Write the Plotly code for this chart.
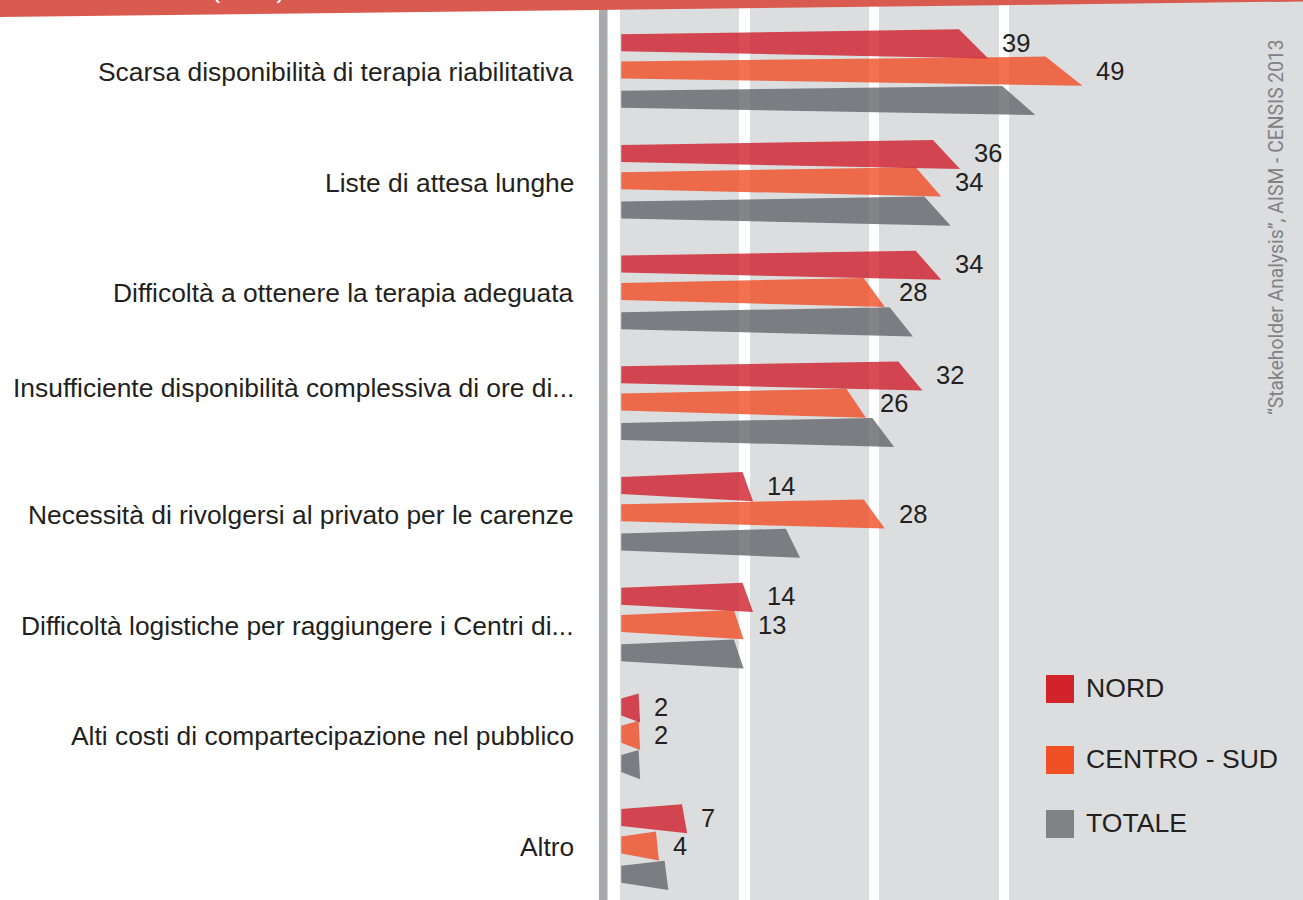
import plotly.graph_objects as go

# ---------------- data ----------------
categories = [
    "Scarsa disponibilità di terapia riabilitativa",
    "Liste di attesa lunghe",
    "Difficoltà a ottenere la terapia adeguata",
    "Insufficiente disponibilità complessiva di ore di...",
    "Necessità di rivolgersi al privato per le carenze",
    "Difficoltà logistiche per raggiungere i Centri di...",
    "Alti costi di compartecipazione nel pubblico",
    "Altro",
]
nord = [39, 36, 34, 32, 14, 14, 2, 7]
centro_sud = [49, 34, 28, 26, 28, 13, 2, 4]
totale = [44, 35, 31, 29, 19, 13, 2, 5]
series_names = ["NORD", "CENTRO - SUD", "TOTALE"]
source_text = "\u201cStakeholder Analysis\u201d, AISM - CENSIS 2013"
banner_text = "PROBLEMI NELL'ACCESSO AL SERVIZIO RIABILITATIVO (IN %)"

# ---------------- layout / style constants ----------------
W, H = 1303, 900
X0_PX = 621.3          # pixel of value 0
PX_X = 9.41            # pixels per unit
ROW0_PX = 70.0         # pixel of first category row
ROW_PX = 110.7         # pixels per category step

x_range = [-X0_PX / PX_X, (W - X0_PX) / PX_X]
y_range = [(H - ROW0_PX) / ROW_PX, -ROW0_PX / ROW_PX]

series_offset_px = [-27.3, 0.0, 29.3]
fill_colors = ["rgba(207,30,42,0.80)", "rgba(240,78,35,0.80)", "rgba(100,101,106,0.80)"]
legend_colors = ["#d2232a", "#f04e23", "#808285"]
LEFT_HALF_PX = 8.5
RIGHT_TOP_PX = 13.4
RIGHT_BOT_PX = 15.7
TOP_RATIO = 0.92

FONT = "Liberation Sans, Arial, Helvetica, sans-serif"
TEXT_COLOR = "#231f20"


def px_to_y(px):
    return px / ROW_PX


def bar_polygon(values, offset_px):
    xs, ys = [], []
    for i, v in enumerate(values):
        yc = i + px_to_y(offset_px)
        xs += [0, TOP_RATIO * v, v, 0, 0, None]
        ys += [yc - px_to_y(LEFT_HALF_PX), yc - px_to_y(RIGHT_TOP_PX),
               yc + px_to_y(RIGHT_BOT_PX), yc + px_to_y(LEFT_HALF_PX),
               yc - px_to_y(LEFT_HALF_PX), None]
    return xs, ys


fig = go.Figure()

all_series = [nord, centro_sud, totale]
# draw TOTALE first so NORD ends on top
for k in [2, 1, 0]:
    xs, ys = bar_polygon(all_series[k], series_offset_px[k])
    fig.add_trace(go.Scatter(
        x=xs, y=ys, mode="lines", fill="toself",
        fillcolor=fill_colors[k], line=dict(width=0),
        name=series_names[k], showlegend=False, hoverinfo="skip",
    ))

annotations = []
# value labels (NORD and CENTRO - SUD only)
for k in [0, 1]:
    for i, v in enumerate(all_series[k]):
        annotations.append(dict(
            x=v, y=i + px_to_y(series_offset_px[k]), xref="x", yref="y",
            text=str(v), showarrow=False, xanchor="left", yanchor="middle",
            xshift=12, yshift=-1 if k == 1 else 0,
            font=dict(family=FONT, size=25.5, color=TEXT_COLOR),
        ))

# category labels
label_yshift = {3: 14}
for i, c in enumerate(categories):
    annotations.append(dict(
        x=576 / W, y=i, xref="paper", yref="y", text=c, showarrow=False,
        xanchor="right", yanchor="middle", yshift=label_yshift.get(i, -2),
        font=dict(family=FONT, size=26.4, color=TEXT_COLOR),
    ))

# legend (manual)
legend_top_px = [675, 746, 810]
shapes = []
for k, name in enumerate(series_names):
    t = legend_top_px[k]
    shapes.append(dict(type="rect", xref="paper", yref="paper",
                       x0=1046 / W, x1=1074 / W, y0=1 - (t + 28) / H, y1=1 - t / H,
                       fillcolor=legend_colors[k], line=dict(width=0), layer="above"))
    annotations.append(dict(
        x=1084 / W, y=1 - (t + 13) / H, xref="paper", yref="paper", text=name,
        showarrow=False, xanchor="left", yanchor="middle",
        font=dict(family=FONT, size=26.6, color=TEXT_COLOR),
    ))

# source, rotated
annotations.append(dict(
    x=1276 / W, y=1 - 227 / H, xref="paper", yref="paper", text=source_text,
    showarrow=False, textangle=-90, xanchor="center", yanchor="middle",
    font=dict(family="Roboto, Liberation Sans, sans-serif", size=19.3, color="#808184"),
))

# banner title (mostly cut by the top edge)
annotations.append(dict(
    x=287 / W, y=1 - 6 / H, xref="paper", yref="paper", text=banner_text,
    showarrow=False, xanchor="right", yanchor="bottom",
    font=dict(family=FONT, size=26, color="white"),
))

# background stripes
stripe_px = [(620, 739), (750, 869), (879, 999), (1009, 1303)]
bg_shapes = []
for a, b in stripe_px:
    bg_shapes.append(dict(type="rect", xref="paper", yref="paper",
                          x0=a / W, x1=b / W, y0=0, y1=1,
                          fillcolor="#dcdddf", line=dict(width=0), layer="below"))
bg_shapes.append(dict(type="rect", xref="paper", yref="paper",
                      x0=599 / W, x1=607.5 / W, y0=0, y1=1,
                      fillcolor="#a7a9ac", line=dict(width=0), layer="below"))
# banner
bg_shapes.append(dict(type="path", xref="paper", yref="paper",
                      path=f"M 0 1 L 1 1 L 1 {1 - 1.5 / H} L 0 {1 - 17 / H} Z",
                      fillcolor="#d95b4f", line=dict(width=0), layer="above"))

fig.update_layout(
    width=W, height=H, margin=dict(l=0, r=0, t=0, b=0),
    paper_bgcolor="white", plot_bgcolor="rgba(0,0,0,0)",
    xaxis=dict(range=x_range, visible=False, fixedrange=True),
    yaxis=dict(range=y_range, visible=False, fixedrange=True),
    shapes=bg_shapes + shapes,
    annotations=annotations,
    showlegend=False,
)

fig.write_html("out.html", config={"displayModeBar": False, "staticPlot": True},
               post_script="document.body.style.margin='0';document.body.style.padding='0';")
